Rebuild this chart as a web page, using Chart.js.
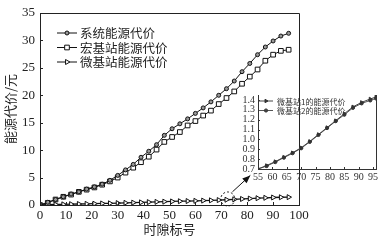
<!DOCTYPE html>
<html><head><meta charset="utf-8">
<script src="https://cdn.jsdelivr.net/npm/chart.js@4.4.1/dist/chart.umd.min.js"></script>
<style>
html,body{margin:0;padding:0;background:#fff;width:384px;height:242px;overflow:hidden}
#wrap{position:relative;width:384px;height:242px}
#main{position:absolute;left:0;top:0}
#inset{position:absolute;left:235px;top:86px}
</style></head><body>
<div id="wrap"><canvas id="main" width="384" height="242"></canvas><canvas id="inset" width="146" height="97"></canvas></div>
<script>
// ---- data ----
const slots = [0,3,6,9,12,15,18,21,24,27,30,33,36,39,42,45,48,51,54,57,60,63,66,69,72,75,78,81,84,87,90,93,96];
const systemCost = [0,0.5,1.0,1.5,2.0,2.4,2.9,3.3,3.8,4.5,5.4,6.4,7.4,8.7,9.8,11.0,12.7,13.9,14.8,15.7,16.7,17.7,18.8,20.0,21.2,22.6,24.3,25.8,27.4,28.8,29.9,30.8,31.3];
const macroCost = [0,0.4,1.0,1.5,1.9,2.4,2.8,3.2,3.7,4.3,5.0,5.9,6.8,7.8,8.8,10.1,11.5,12.4,13.3,14.5,15.3,16.3,17.2,18.4,19.5,20.7,22.1,23.4,24.7,26.3,27.4,28.1,28.3];
const microCost = [0.03,0.06,0.09,0.12,0.15,0.18,0.21,0.24,0.28,0.31,0.35,0.39,0.43,0.48,0.53,0.57,0.61,0.65,0.69,0.72,0.76,0.8,0.85,0.9,0.96,1.03,1.1,1.17,1.24,1.31,1.37,1.41,1.43];
const seriesNames = ['系统能源代价','宏基站能源代价','微基站能源代价'];
const xTickVals = [0,10,20,30,40,50,60,70,80,90,100];
const yTickVals = [0,5,10,15,20,25,30,35];

const insetSlots = [55,58,61,64,67,70,73,76,79,82,85,88,91,94,96];
const micro1Cost = [0.70,0.735,0.775,0.82,0.865,0.915,0.98,1.05,1.12,1.19,1.26,1.33,1.375,1.41,1.43];
const micro2Cost = [0.70,0.73,0.77,0.815,0.86,0.91,0.975,1.045,1.115,1.185,1.25,1.32,1.365,1.395,1.415];
const insetNames = ['微基站1的能源代价','微基站2的能源代价'];
const insetXTickVals = [55,60,65,70,75,80,85,90,95];
const insetYTickVals = [0.7,0.8,0.9,1.0,1.1,1.2,1.3,1.4];

const xTitle = '时隙标号';
const yTitle = '能源代价/元';
const zoomSpot = {x:72.5, y:1.1};      // dashed circle (data coords)
const arrowFrom = {x:74.3, y:2.4};
const arrowTo = {x:81.2, y:5.4};

Chart.defaults.font.family = "'Liberation Serif', 'Times New Roman', serif";
Chart.defaults.color = '#222';

const pts = (xs, ys) => xs.map((x,i)=>({x, y: ys[i]}));

const inwardTicks = {
  id: 'inwardTicks',
  afterDraw(chart, args, opts) {
    const {ctx, chartArea: a, scales} = chart;
    const L = opts.len || 4;
    ctx.save(); ctx.strokeStyle = opts.color || '#222'; ctx.lineWidth = 1;
    ctx.beginPath();
    scales.x.ticks.forEach(t => { const px = Math.round(scales.x.getPixelForValue(t.value)) + 0.5; ctx.moveTo(px, a.bottom); ctx.lineTo(px, a.bottom - L); });
    scales.y.ticks.forEach(t => { const py = Math.round(scales.y.getPixelForValue(t.value)) + 0.5; ctx.moveTo(a.left, py); ctx.lineTo(a.left + L, py); });
    if (opts.frame === 'box') {
      ctx.moveTo(a.left, Math.round(a.top)+0.5); ctx.lineTo(Math.round(a.right)+0.5, Math.round(a.top)+0.5);
      ctx.lineTo(Math.round(a.right)+0.5, a.bottom);
    } else if (opts.frame === 'right') {
      ctx.moveTo(Math.round(a.right)+0.5, a.top); ctx.lineTo(Math.round(a.right)+0.5, a.bottom);
    }
    ctx.stroke(); ctx.restore();
  }
};

const customLegend = {
  id: 'customLegend',
  afterDraw(chart, args, opts) {
    const {ctx, chartArea: a} = chart;
    ctx.save();
    chart.data.datasets.forEach((ds, i) => {
      const y = a.top + opts.top + i * opts.gap;
      const x0 = a.left + opts.left;
      ctx.strokeStyle = ds.borderColor; ctx.lineWidth = 1;
      ctx.beginPath(); ctx.moveTo(x0, y); ctx.lineTo(x0 + opts.lineLen, y); ctx.stroke();
      ctx.fillStyle = ds.pointBackgroundColor; ctx.strokeStyle = ds.pointBorderColor;
      Chart.helpers.drawPoint(ctx, {pointStyle: ds.pointStyle, radius: ds.pointRadius, rotation: ds.pointRotation || 0, borderWidth: 1}, x0 + opts.lineLen/2, y);
      ctx.fillStyle = opts.color; ctx.font = opts.font; ctx.textBaseline = 'middle'; ctx.textAlign = 'left';
      ctx.fillText(ds.label, x0 + opts.lineLen + opts.textGap, y + 0.5);
    });
    ctx.restore();
  }
};

const zoomMark = {
  id: 'zoomMark',
  afterDatasetsDraw(chart) {
    const {ctx, scales:{x, y}} = chart;
    const cx = x.getPixelForValue(zoomSpot.x), cy = y.getPixelForValue(zoomSpot.y);
    ctx.save();
    ctx.strokeStyle = '#111'; ctx.lineWidth = 1; ctx.setLineDash([2,2]);
    ctx.beginPath(); ctx.arc(cx, cy, 7, 0, Math.PI*2); ctx.stroke();
    ctx.setLineDash([]);
    const x1 = x.getPixelForValue(arrowFrom.x), y1 = y.getPixelForValue(arrowFrom.y);
    const x2 = x.getPixelForValue(arrowTo.x), y2 = y.getPixelForValue(arrowTo.y);
    ctx.beginPath(); ctx.moveTo(x1, y1); ctx.lineTo(x2, y2); ctx.stroke();
    const ang = Math.atan2(y2-y1, x2-x1), L = 8, W = 3.2;
    ctx.fillStyle = '#111';
    ctx.beginPath(); ctx.moveTo(x2, y2);
    ctx.lineTo(x2 - L*Math.cos(ang) + W*Math.sin(ang), y2 - L*Math.sin(ang) - W*Math.cos(ang));
    ctx.lineTo(x2 - L*Math.cos(ang) - W*Math.sin(ang), y2 - L*Math.sin(ang) + W*Math.cos(ang));
    ctx.closePath(); ctx.fill();
    ctx.restore();
  }
};

new Chart(document.getElementById('main'), {
  type: 'line',
  data: { datasets: [
    {label: seriesNames[0], data: pts(slots, systemCost), borderColor:'#111', borderWidth:1, pointStyle:'circle', pointRadius:2, pointBackgroundColor:'#999', pointBorderColor:'#111', pointBorderWidth:1},
    {label: seriesNames[1], data: pts(slots, macroCost), borderColor:'#111', borderWidth:1, pointStyle:'rect', pointRadius:3.3, pointBackgroundColor:'#fff', pointBorderColor:'#111', pointBorderWidth:1},
    {label: seriesNames[2], data: pts(slots, microCost), borderColor:'#111', borderWidth:1.3, pointStyle:'triangle', pointRotation:90, pointRadius:2.9, pointBackgroundColor:'#fff', pointBorderColor:'#111', pointBorderWidth:1}
  ]},
  options: {
    responsive:false, animation:false, devicePixelRatio:1, events:[],
    layout: {padding:{left:0, top:13, right:85, bottom:0}},
    scales: {
      x: { type:'linear', min:0, max:100,
        afterBuildTicks: s => { s.ticks = xTickVals.map(v=>({value:v})); },
        afterFit: s => { s.height = 37; },
        grid:{display:false, drawTicks:false}, border:{display:true, color:'#222', width:1},
        ticks:{padding:3, font:{size:13}, color:'#222', maxRotation:0},
        title:{display:true, text:xTitle, font:{family:"'Noto Sans CJK SC'", size:13}, color:'#222', padding:{top:0,bottom:5}}
      },
      y: { type:'linear', min:0, max:35,
        afterBuildTicks: s => { s.ticks = yTickVals.map(v=>({value:v})); },
        afterFit: s => { s.width = 40; },
        grid:{display:false, drawTicks:false}, border:{display:true, color:'#222', width:1},
        ticks:{padding:5, font:{size:13}, color:'#222'},
        title:{display:true, text:yTitle, font:{family:"'Noto Sans CJK SC'", size:13}, color:'#222', padding:{top:2,bottom:0}}
      }
    },
    plugins: {
      legend:{display:false}, tooltip:{enabled:false},
      inwardTicks:{len:3, color:'#222', frame:'box'},
      customLegend:{left:17, top:20, gap:14.5, lineLen:20, textGap:3, color:'#222', font:"12.5px 'Noto Sans CJK SC'"}
    }
  },
  plugins:[inwardTicks, customLegend, zoomMark]
});

new Chart(document.getElementById('inset'), {
  type: 'line',
  data: { datasets: [
    {label: insetNames[0], data: pts(insetSlots, micro1Cost), borderColor:'#444', borderWidth:1, pointStyle:'triangle', pointRotation:90, pointRadius:2, pointBackgroundColor:'#333', pointBorderColor:'#333', pointBorderWidth:1},
    {label: insetNames[1], data: pts(insetSlots, micro2Cost), borderColor:'#555', borderWidth:1, pointStyle:'circle', pointRadius:1.6, pointBackgroundColor:'#444', pointBorderColor:'#333', pointBorderWidth:1}
  ]},
  options: {
    responsive:false, animation:false, devicePixelRatio:1, events:[],
    layout: {padding:{left:0, top:4, right:5, bottom:0}},
    scales: {
      x: { type:'linear', min:55, max:96,
        afterBuildTicks: s => { s.ticks = insetXTickVals.map(v=>({value:v})); },
        afterFit: s => { s.height = 14; },
        grid:{display:false, drawTicks:false}, border:{display:true, color:'#333', width:1},
        ticks:{padding:2, font:{size:10}, color:'#333', maxRotation:0, autoSkip:false}
      },
      y: { type:'linear', min:0.7, max:1.45,
        afterBuildTicks: s => { s.ticks = insetYTickVals.map(v=>({value:v})); },
        afterFit: s => { s.width = 23; },
        grid:{display:false, drawTicks:false}, border:{display:true, color:'#333', width:1},
        ticks:{padding:3, font:{size:10}, color:'#333', autoSkip:false, callback: v => Number(v).toFixed(1)}
      }
    },
    plugins: {
      legend:{display:false}, tooltip:{enabled:false},
      inwardTicks:{len:2, color:'#333', frame:'right'},
      customLegend:{left:1, top:6, gap:9.5, lineLen:14, textGap:4, color:'#333', font:"8px 'Noto Sans CJK SC'"}
    }
  },
  plugins:[inwardTicks, customLegend]
});
</script>
</body></html>
